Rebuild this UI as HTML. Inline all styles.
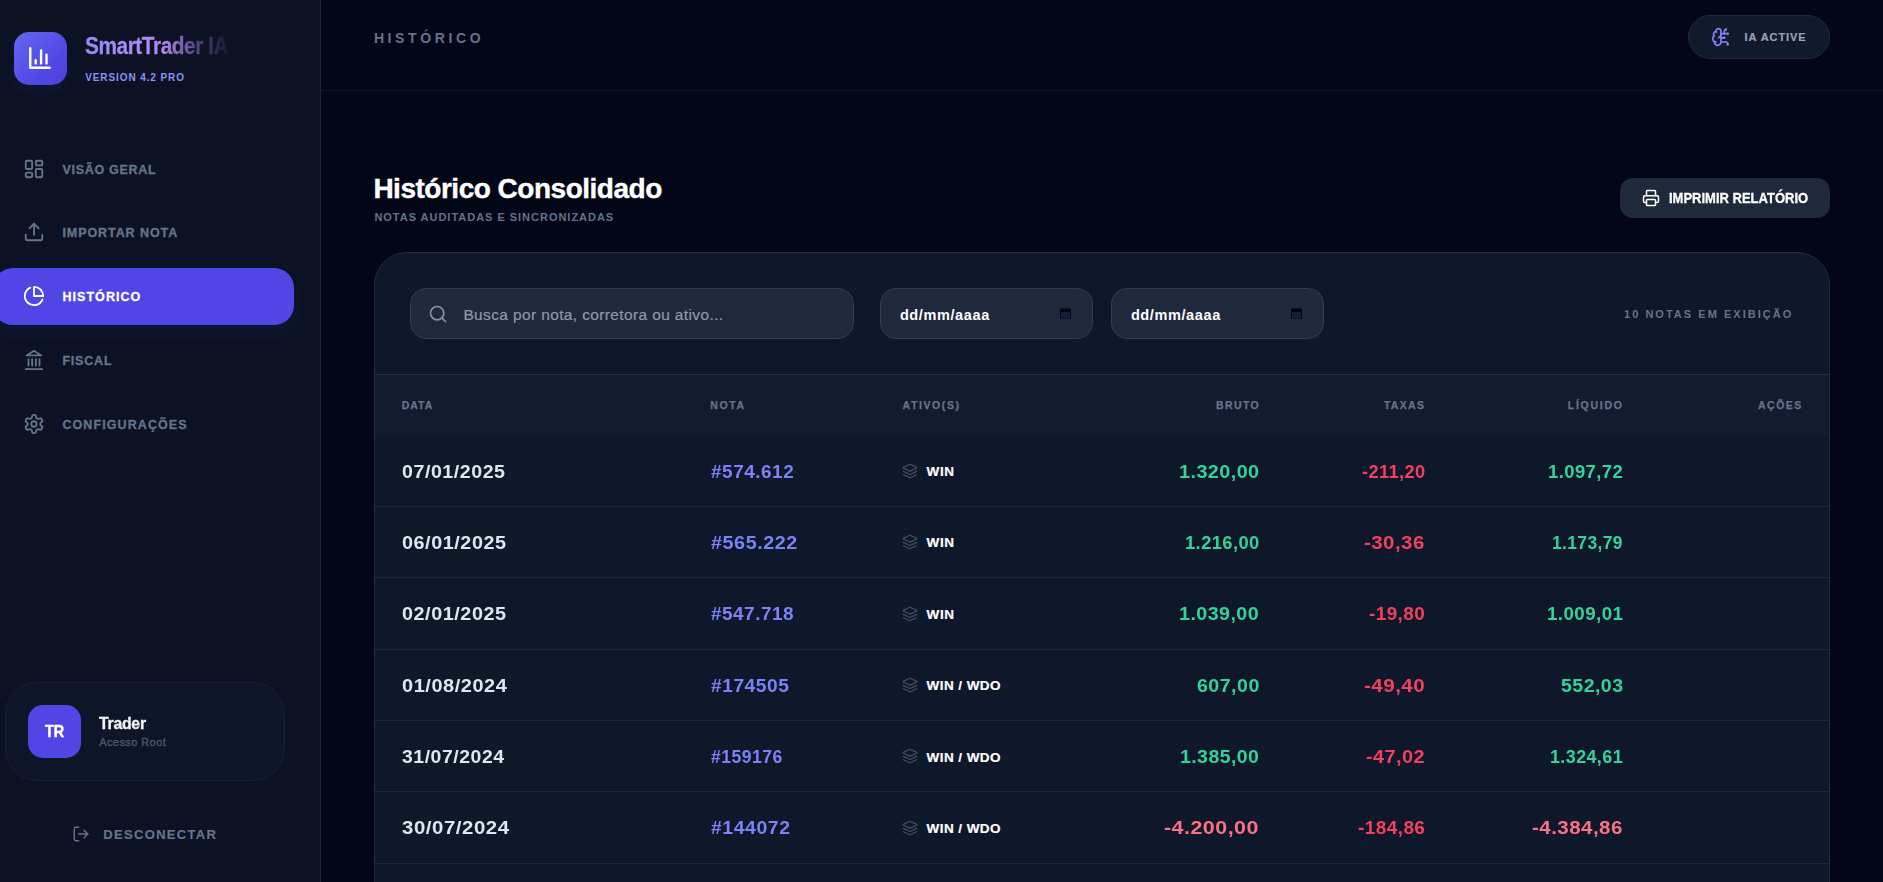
<!DOCTYPE html>
<html lang="pt-BR">
<head>
<meta charset="utf-8">
<title>SmartTrader IA - Histórico</title>
<style>
*{box-sizing:border-box;margin:0;padding:0}
html,body{width:1883px;height:882px;overflow:hidden;background:#020617;color:#e2e8f0;font-family:"Liberation Sans",sans-serif}
body{position:relative}
.x{position:absolute;white-space:nowrap;line-height:1;font-weight:700}
.p{position:absolute}
svg.i{position:absolute;fill:none;stroke-linecap:round;stroke-linejoin:round;overflow:visible}
#sidebar{left:0;top:0;width:321px;height:882px;background:#0c1224;border-right:1px solid #1c2338}
#logo{left:14px;top:32px;width:53px;height:53px;border-radius:15px;background:linear-gradient(135deg,#6467f2 0%,#4f46e5 70%,#4a40dd 100%);box-shadow:0 6px 14px rgba(79,70,229,.07)}
#active{left:-7px;top:268px;width:301px;height:57px;background:#4f46e5;border-radius:20px;box-shadow:0 8px 18px rgba(79,70,229,.08)}
#user{left:5px;top:682px;width:280px;height:99px;border:1px solid #182036;border-radius:32px;background:#0f1528}
#avatar{left:28px;top:705px;width:53px;height:53px;border-radius:15px;background:#4f46e5}
#hline{left:321px;top:90px;width:1562px;height:1px;background:#0e1527}
#pill{left:1688px;top:15px;width:142px;height:44px;border-radius:22px;background:#111a2c;border:1px solid #1f2a40}
#print{left:1620px;top:178px;width:210px;height:40px;border-radius:13px;background:#1e293b}
#card{left:374px;top:252px;width:1456px;height:680px;border-radius:33px;background:#0f172a;border:1px solid #222b40}
.inp{top:288px;height:51px;border-radius:16px;background:#1e293b;border:1px solid #303c51}
#thead{left:375px;top:374px;width:1454px;height:62px;background:#131b2f;border-top:1px solid #222c41}
.hr{left:375px;width:1454px;height:1px;background:#1f283b}
</style>
</head>
<body>
<div id="sidebar" class="p"></div>
<div id="logo" class="p"></div>
<svg class="i" style="left:27.3px;top:44.6px;width:26px;height:26px;stroke:#fff;stroke-width:2.2" viewBox="0 0 24 24"><path d="M3 3v18h18"/><path d="M18 17V9"/><path d="M13 17V5"/><path d="M8 17v-3"/></svg>
<div id="active" class="p"></div>
<svg class="i" style="left:23px;top:158px;width:22px;height:22px;stroke:#64748b;stroke-width:2" viewBox="0 0 24 24"><rect x="3" y="3" width="7" height="9" rx="1"/><rect x="14" y="3" width="7" height="5" rx="1"/><rect x="14" y="12" width="7" height="9" rx="1"/><rect x="3" y="16" width="7" height="5" rx="1"/></svg>
<svg class="i" style="left:23px;top:221px;width:22px;height:22px;stroke:#64748b;stroke-width:2" viewBox="0 0 24 24"><path d="M21 15v4a2 2 0 0 1-2 2H5a2 2 0 0 1-2-2v-4"/><path d="M17 8l-5-5-5 5"/><path d="M12 3v12"/></svg>
<svg class="i" style="left:23px;top:285px;width:22px;height:22px;stroke:#fff;stroke-width:2" viewBox="0 0 24 24"><path d="M21.21 15.89A10 10 0 1 1 8 2.83"/><path d="M22 12A10 10 0 0 0 12 2v10z"/></svg>
<svg class="i" style="left:23px;top:349px;width:22px;height:22px;stroke:#64748b;stroke-width:2" viewBox="0 0 24 24"><path d="M3 22h18"/><path d="M6 18v-7"/><path d="M10 18v-7"/><path d="M14 18v-7"/><path d="M18 18v-7"/><path d="M12 2l8 5H4z"/></svg>
<svg class="i" style="left:23px;top:413px;width:22px;height:22px;stroke:#64748b;stroke-width:2" viewBox="0 0 24 24"><path d="M12.22 2h-.44a2 2 0 0 0-2 2v.18a2 2 0 0 1-1 1.73l-.43.25a2 2 0 0 1-2 0l-.15-.08a2 2 0 0 0-2.73.73l-.22.38a2 2 0 0 0 .73 2.73l.15.1a2 2 0 0 1 1 1.72v.51a2 2 0 0 1-1 1.74l-.15.09a2 2 0 0 0-.73 2.73l.22.38a2 2 0 0 0 2.73.73l.15-.08a2 2 0 0 1 2 0l.43.25a2 2 0 0 1 1 1.73V20a2 2 0 0 0 2 2h.44a2 2 0 0 0 2-2v-.18a2 2 0 0 1 1-1.73l.43-.25a2 2 0 0 1 2 0l.15.08a2 2 0 0 0 2.73-.73l.22-.39a2 2 0 0 0-.73-2.73l-.15-.08a2 2 0 0 1-1-1.74v-.5a2 2 0 0 1 1-1.74l.15-.09a2 2 0 0 0 .73-2.73l-.22-.38a2 2 0 0 0-2.73-.73l-.15.08a2 2 0 0 1-2 0l-.43-.25a2 2 0 0 1-1-1.73V4a2 2 0 0 0-2-2z"/><circle cx="12" cy="12" r="3"/></svg>
<div id="user" class="p"></div>
<div id="avatar" class="p"></div>
<svg class="i" style="left:71.5px;top:824.7px;width:18px;height:18px;stroke:#64748b;stroke-width:1.8" viewBox="0 0 24 24"><path d="M9 21H5a2 2 0 0 1-2-2V5a2 2 0 0 1 2-2h4"/><path d="M16 17l5-5-5-5"/><path d="M21 12H9"/></svg>
<div id="hline" class="p"></div>
<div id="pill" class="p"></div>
<svg class="i" style="left:1710.6px;top:26.9px;width:20px;height:20px;stroke:#7f83f3;stroke-width:2" viewBox="0 0 24 24"><path d="M12 5a3 3 0 1 0-5.997.125 4 4 0 0 0-2.526 5.770 4 4 0 0 0 .556 6.588A4 4 0 1 0 12 18Z"/><path d="M9 13a4.500 4.500 0 0 0 3-4"/><path d="M6.003 5.125A3 3 0 0 0 6.401 6.500"/><path d="M3.477 10.896a4 4 0 0 1 .585-.396"/><path d="M6 18a4 4 0 0 1-1.967-.516"/><path d="M12 13h4"/><path d="M12 18h6a2 2 0 0 1 2 2v1"/><path d="M12 8h8"/><path d="M16 8V5a2 2 0 0 1 2-2"/><circle cx="16" cy="13" r=".5"/><circle cx="18" cy="3" r=".5"/><circle cx="20" cy="21" r=".5"/><circle cx="20" cy="8" r=".5"/></svg>
<div id="print" class="p"></div>
<svg class="i" style="left:1641.8px;top:189px;width:18px;height:18px;stroke:#fff;stroke-width:2" viewBox="0 0 24 24"><path d="M6 18H4a2 2 0 0 1-2-2v-5a2 2 0 0 1 2-2h16a2 2 0 0 1 2 2v5a2 2 0 0 1-2 2h-2"/><path d="M6 9V3a1 1 0 0 1 1-1h10a1 1 0 0 1 1 1v6"/><rect x="6" y="14" width="12" height="8" rx="1"/></svg>
<div id="card" class="p"></div>
<div class="p inp" style="left:410px;width:444px"></div>
<svg class="i" style="left:428px;top:304.2px;width:20px;height:20px;stroke:#8592a8;stroke-width:2" viewBox="0 0 24 24"><circle cx="11" cy="11" r="8"/><path d="M21 21l-4.3-4.3"/></svg>
<div class="p inp" style="left:880px;width:213px"></div>
<div class="p inp" style="left:1111px;width:213px"></div>
<svg class="p" style="left:1060.2px;top:307.8px;width:11px;height:11.6px" viewBox="0 0 11 11.6"><rect x=".5" y="1.2" width="10" height="9.9" rx="1.2" fill="#141d38" stroke="#050814" stroke-width="1"/><path fill="#02030b" d="M1.1.7h8.800a1.100 1.100 0 0 1 1.100 1.100v2.100H0V1.800A1.100 1.100 0 0 1 1.100.7zM1.700 0h1.400v1.200H1.700zM7.900 0h1.400v1.200H7.900z"/></svg>
<svg class="p" style="left:1291.2px;top:307.8px;width:11px;height:11.6px" viewBox="0 0 11 11.6"><rect x=".5" y="1.2" width="10" height="9.9" rx="1.2" fill="#141d38" stroke="#050814" stroke-width="1"/><path fill="#02030b" d="M1.1.7h8.800a1.100 1.100 0 0 1 1.100 1.100v2.100H0V1.800A1.100 1.100 0 0 1 1.100.7zM1.700 0h1.400v1.200H1.700zM7.900 0h1.400v1.200H7.900z"/></svg>
<div id="thead" class="p"></div>
<div class="p hr" style="top:506px"></div>
<div class="p hr" style="top:577px"></div>
<div class="p hr" style="top:649px"></div>
<div class="p hr" style="top:720px"></div>
<div class="p hr" style="top:791px"></div>
<div class="p hr" style="top:863px"></div>
<svg class="i" style="left:901.8px;top:462.8px;width:16px;height:16px;stroke:#434f64;stroke-width:1.9" viewBox="0 0 24 24"><path d="M12.830 2.180a2 2 0 0 0-1.660 0L2.600 6.080a1 1 0 0 0 0 1.830l8.580 3.910a2 2 0 0 0 1.660 0l8.580-3.900a1 1 0 0 0 0-1.830Z"/><path d="M22 12.650l-9.170 4.160a2 2 0 0 1-1.660 0L2 12.650"/><path d="M22 17.650l-9.170 4.160a2 2 0 0 1-1.660 0L2 17.650"/></svg>
<svg class="i" style="left:901.8px;top:534.2px;width:16px;height:16px;stroke:#434f64;stroke-width:1.9" viewBox="0 0 24 24"><path d="M12.830 2.180a2 2 0 0 0-1.660 0L2.600 6.080a1 1 0 0 0 0 1.830l8.580 3.910a2 2 0 0 0 1.660 0l8.580-3.900a1 1 0 0 0 0-1.830Z"/><path d="M22 12.650l-9.170 4.160a2 2 0 0 1-1.660 0L2 12.650"/><path d="M22 17.650l-9.170 4.160a2 2 0 0 1-1.660 0L2 17.650"/></svg>
<svg class="i" style="left:901.8px;top:605.6px;width:16px;height:16px;stroke:#434f64;stroke-width:1.9" viewBox="0 0 24 24"><path d="M12.830 2.180a2 2 0 0 0-1.660 0L2.600 6.080a1 1 0 0 0 0 1.830l8.580 3.910a2 2 0 0 0 1.660 0l8.580-3.900a1 1 0 0 0 0-1.830Z"/><path d="M22 12.650l-9.170 4.160a2 2 0 0 1-1.660 0L2 12.650"/><path d="M22 17.650l-9.170 4.160a2 2 0 0 1-1.660 0L2 17.650"/></svg>
<svg class="i" style="left:901.8px;top:677.0px;width:16px;height:16px;stroke:#434f64;stroke-width:1.9" viewBox="0 0 24 24"><path d="M12.830 2.180a2 2 0 0 0-1.660 0L2.600 6.080a1 1 0 0 0 0 1.830l8.580 3.910a2 2 0 0 0 1.660 0l8.580-3.900a1 1 0 0 0 0-1.830Z"/><path d="M22 12.650l-9.170 4.160a2 2 0 0 1-1.660 0L2 12.650"/><path d="M22 17.650l-9.170 4.160a2 2 0 0 1-1.660 0L2 17.650"/></svg>
<svg class="i" style="left:901.8px;top:748.4px;width:16px;height:16px;stroke:#434f64;stroke-width:1.9" viewBox="0 0 24 24"><path d="M12.830 2.180a2 2 0 0 0-1.660 0L2.600 6.080a1 1 0 0 0 0 1.830l8.580 3.910a2 2 0 0 0 1.660 0l8.580-3.900a1 1 0 0 0 0-1.830Z"/><path d="M22 12.650l-9.170 4.160a2 2 0 0 1-1.660 0L2 12.650"/><path d="M22 17.650l-9.170 4.160a2 2 0 0 1-1.660 0L2 17.650"/></svg>
<svg class="i" style="left:901.8px;top:819.8px;width:16px;height:16px;stroke:#434f64;stroke-width:1.9" viewBox="0 0 24 24"><path d="M12.830 2.180a2 2 0 0 0-1.660 0L2.600 6.080a1 1 0 0 0 0 1.830l8.580 3.910a2 2 0 0 0 1.660 0l8.580-3.900a1 1 0 0 0 0-1.830Z"/><path d="M22 12.650l-9.170 4.160a2 2 0 0 1-1.660 0L2 12.650"/><path d="M22 17.650l-9.170 4.160a2 2 0 0 1-1.660 0L2 17.650"/></svg>
<div class="x" style="left:85.4px;top:34.5px;font-size:23px;color:transparent;transform:scaleX(0.9069);transform-origin:0 0;letter-spacing:-0.5px;-webkit-text-stroke:0.3px currentColor;background:linear-gradient(90deg,#8f8ef8 0%,#a78bf7 30%,#b586f0 55%,rgba(140,110,200,.55) 78%,rgba(90,80,150,.12) 100%);-webkit-background-clip:text;background-clip:text;">SmartTrader IA</div>
<div class="x" style="left:85.2px;top:73.3px;font-size:10px;letter-spacing:0.90px;color:#8b92f7;">VERSION 4.2 PRO</div>
<div class="x" style="left:62.4px;top:164.4px;font-size:12.5px;letter-spacing:0.72px;color:#64748b;-webkit-text-stroke:0.3px currentColor;">VISÃO GERAL</div>
<div class="x" style="left:62.4px;top:227.2px;font-size:12.5px;letter-spacing:0.93px;color:#64748b;-webkit-text-stroke:0.3px currentColor;">IMPORTAR NOTA</div>
<div class="x" style="left:62.4px;top:291.0px;font-size:12.5px;letter-spacing:1.06px;color:#fff;-webkit-text-stroke:0.3px currentColor;">HISTÓRICO</div>
<div class="x" style="left:62.4px;top:355.2px;font-size:12.5px;letter-spacing:0.80px;color:#64748b;-webkit-text-stroke:0.3px currentColor;">FISCAL</div>
<div class="x" style="left:62.4px;top:419.2px;font-size:12.5px;letter-spacing:1.09px;color:#64748b;-webkit-text-stroke:0.3px currentColor;">CONFIGURAÇÕES</div>
<div class="x" style="left:45.2px;top:722.7px;font-size:17px;color:#fff;transform:scaleX(0.8443);transform-origin:0 0;-webkit-text-stroke:0.5px currentColor;">TR</div>
<div class="x" style="left:99.2px;top:714.8px;font-size:17px;color:#f1f5f9;transform:scaleX(0.9321);transform-origin:0 0;letter-spacing:-0.3px;-webkit-text-stroke:0.3px currentColor;">Trader</div>
<div class="x" style="left:99.2px;top:736.7px;font-size:11px;letter-spacing:0.42px;color:#4a5569;font-weight:400;-webkit-text-stroke:0.35px currentColor;">Acesso Root</div>
<div class="x" style="left:103.3px;top:827.6px;font-size:13px;letter-spacing:1.32px;color:#64748b;-webkit-text-stroke:0.2px currentColor;">DESCONECTAR</div>
<div class="x" style="left:373.9px;top:31.1px;font-size:14px;letter-spacing:3.61px;color:#64728b;">HISTÓRICO</div>
<div class="x" style="left:1744.6px;top:31.8px;font-size:11px;letter-spacing:0.94px;color:#97a3b6;-webkit-text-stroke:0.2px currentColor;">IA ACTIVE</div>
<div class="x" style="left:373.4px;top:175.0px;font-size:28px;letter-spacing:-0.49px;color:#fff;-webkit-text-stroke:0.4px currentColor;">Histórico Consolidado</div>
<div class="x" style="left:374.4px;top:212.0px;font-size:11px;letter-spacing:0.98px;color:#64748b;">NOTAS AUDITADAS E SINCRONIZADAS</div>
<div class="x" style="left:1668.9px;top:190.6px;font-size:14.5px;color:#fff;transform:scaleX(0.8966);transform-origin:0 0;-webkit-text-stroke:0.3px currentColor;">IMPRIMIR RELATÓRIO</div>
<div class="x" style="left:463.4px;top:306.8px;font-size:15.5px;letter-spacing:0.37px;color:#8d99ad;font-weight:400;-webkit-text-stroke:0.2px currentColor;">Busca por nota, corretora ou ativo...</div>
<div class="x" style="left:899.9px;top:308.1px;font-size:14.5px;letter-spacing:0.61px;color:#fff;">dd/mm/aaaa</div>
<div class="x" style="left:1130.9px;top:308.1px;font-size:14.5px;letter-spacing:0.61px;color:#fff;">dd/mm/aaaa</div>
<div class="x" style="left:1624.0px;top:308.6px;font-size:11px;letter-spacing:2.03px;color:#64748b;">10 NOTAS EM EXIBIÇÃO</div>
<div class="x" style="left:401.7px;top:399.9px;font-size:10.5px;letter-spacing:0.99px;color:#64748b;-webkit-text-stroke:0.25px currentColor;">DATA</div>
<div class="x" style="left:710.3px;top:399.9px;font-size:10.5px;letter-spacing:1.61px;color:#64748b;-webkit-text-stroke:0.25px currentColor;">NOTA</div>
<div class="x" style="left:902.6px;top:399.9px;font-size:10.5px;letter-spacing:1.58px;color:#64748b;-webkit-text-stroke:0.25px currentColor;">ATIVO(S)</div>
<div class="x" style="left:1216.0px;top:399.9px;font-size:10.5px;letter-spacing:1.38px;color:#64748b;-webkit-text-stroke:0.25px currentColor;">BRUTO</div>
<div class="x" style="left:1383.9px;top:399.9px;font-size:10.5px;letter-spacing:1.32px;color:#64748b;-webkit-text-stroke:0.25px currentColor;">TAXAS</div>
<div class="x" style="left:1567.8px;top:399.9px;font-size:10.5px;letter-spacing:1.74px;color:#64748b;-webkit-text-stroke:0.25px currentColor;">LÍQUIDO</div>
<div class="x" style="left:1758.1px;top:399.9px;font-size:10.5px;letter-spacing:1.44px;color:#64748b;-webkit-text-stroke:0.25px currentColor;">AÇÕES</div>
<div class="x" style="left:401.7px;top:462.8px;font-size:18px;color:#dfe6f0;transform:scaleX(1.0891);transform-origin:0 0;letter-spacing:0.5px;">07/01/2025</div>
<div class="x" style="left:710.8px;top:462.8px;font-size:18px;color:#7c82f6;transform:scaleX(1.0526);transform-origin:0 0;letter-spacing:0.5px;">#574.612</div>
<div class="x" style="left:926.6px;top:465.2px;font-size:13.5px;letter-spacing:0.60px;color:#fff;-webkit-text-stroke:0.2px currentColor;">WIN</div>
<div class="x" style="left:1178.7px;top:462.8px;font-size:18px;color:#34d399;transform:scaleX(1.0994);transform-origin:0 0;letter-spacing:0.4px;">1.320,00</div>
<div class="x" style="left:1361.5px;top:462.8px;font-size:18px;color:#f43f5e;transform:scaleX(1.0121);transform-origin:0 0;letter-spacing:0.4px;">-211,20</div>
<div class="x" style="left:1548.0px;top:462.8px;font-size:18px;color:#34d399;transform:scaleX(1.0257);transform-origin:0 0;letter-spacing:0.4px;">1.097,72</div>
<div class="x" style="left:401.7px;top:533.6px;font-size:18px;color:#dfe6f0;transform:scaleX(1.0996);transform-origin:0 0;letter-spacing:0.5px;">06/01/2025</div>
<div class="x" style="left:710.8px;top:533.6px;font-size:18px;color:#7c82f6;transform:scaleX(1.0984);transform-origin:0 0;letter-spacing:0.5px;">#565.222</div>
<div class="x" style="left:926.6px;top:536.0px;font-size:13.5px;letter-spacing:0.60px;color:#fff;-webkit-text-stroke:0.2px currentColor;">WIN</div>
<div class="x" style="left:1184.5px;top:533.6px;font-size:18px;color:#34d399;transform:scaleX(1.0201);transform-origin:0 0;letter-spacing:0.4px;">1.216,00</div>
<div class="x" style="left:1364.4px;top:533.6px;font-size:18px;color:#f43f5e;transform:scaleX(1.1371);transform-origin:0 0;letter-spacing:0.4px;">-30,36</div>
<div class="x" style="left:1552.2px;top:533.6px;font-size:18px;color:#34d399;transform:scaleX(0.9672);transform-origin:0 0;letter-spacing:0.4px;">1.173,79</div>
<div class="x" style="left:401.7px;top:605.0px;font-size:18px;color:#dfe6f0;transform:scaleX(1.0996);transform-origin:0 0;letter-spacing:0.5px;">02/01/2025</div>
<div class="x" style="left:710.8px;top:605.0px;font-size:18px;color:#7c82f6;transform:scaleX(1.0501);transform-origin:0 0;letter-spacing:0.5px;">#547.718</div>
<div class="x" style="left:926.6px;top:608.2px;font-size:13.5px;letter-spacing:0.60px;color:#fff;-webkit-text-stroke:0.2px currentColor;">WIN</div>
<div class="x" style="left:1179.1px;top:605.0px;font-size:18px;color:#34d399;transform:scaleX(1.0939);transform-origin:0 0;letter-spacing:0.4px;">1.039,00</div>
<div class="x" style="left:1369.0px;top:605.0px;font-size:18px;color:#f43f5e;transform:scaleX(1.0504);transform-origin:0 0;letter-spacing:0.4px;">-19,80</div>
<div class="x" style="left:1546.8px;top:605.0px;font-size:18px;color:#34d399;transform:scaleX(1.0424);transform-origin:0 0;letter-spacing:0.4px;">1.009,01</div>
<div class="x" style="left:401.7px;top:677.0px;font-size:18px;color:#dfe6f0;transform:scaleX(1.1081);transform-origin:0 0;letter-spacing:0.5px;">01/08/2024</div>
<div class="x" style="left:710.8px;top:677.0px;font-size:18px;color:#7c82f6;transform:scaleX(1.0662);transform-origin:0 0;letter-spacing:0.5px;">#174505</div>
<div class="x" style="left:926.6px;top:678.8px;font-size:13.5px;letter-spacing:0.43px;color:#fff;-webkit-text-stroke:0.2px currentColor;">WIN / WDO</div>
<div class="x" style="left:1196.5px;top:677.0px;font-size:18px;color:#34d399;transform:scaleX(1.0921);transform-origin:0 0;letter-spacing:0.4px;">607,00</div>
<div class="x" style="left:1364.0px;top:677.0px;font-size:18px;color:#f43f5e;transform:scaleX(1.1447);transform-origin:0 0;letter-spacing:0.4px;">-49,40</div>
<div class="x" style="left:1560.7px;top:677.0px;font-size:18px;color:#34d399;transform:scaleX(1.0869);transform-origin:0 0;letter-spacing:0.4px;">552,03</div>
<div class="x" style="left:401.7px;top:747.8px;font-size:18px;color:#dfe6f0;transform:scaleX(1.0785);transform-origin:0 0;letter-spacing:0.5px;">31/07/2024</div>
<div class="x" style="left:710.8px;top:747.8px;font-size:18px;color:#7c82f6;transform:scaleX(0.9759);transform-origin:0 0;letter-spacing:0.5px;">#159176</div>
<div class="x" style="left:926.6px;top:750.8px;font-size:13.5px;letter-spacing:0.43px;color:#fff;-webkit-text-stroke:0.2px currentColor;">WIN / WDO</div>
<div class="x" style="left:1179.9px;top:747.8px;font-size:18px;color:#34d399;transform:scaleX(1.0827);transform-origin:0 0;letter-spacing:0.4px;">1.385,00</div>
<div class="x" style="left:1366.1px;top:747.8px;font-size:18px;color:#f43f5e;transform:scaleX(1.1051);transform-origin:0 0;letter-spacing:0.4px;">-47,02</div>
<div class="x" style="left:1550.1px;top:747.8px;font-size:18px;color:#34d399;transform:scaleX(0.9964);transform-origin:0 0;letter-spacing:0.4px;">1.324,61</div>
<div class="x" style="left:401.7px;top:819.2px;font-size:18px;color:#dfe6f0;transform:scaleX(1.1324);transform-origin:0 0;letter-spacing:0.5px;">30/07/2024</div>
<div class="x" style="left:710.8px;top:819.2px;font-size:18px;color:#7c82f6;transform:scaleX(1.0812);transform-origin:0 0;letter-spacing:0.5px;">#144072</div>
<div class="x" style="left:926.6px;top:821.6px;font-size:13.5px;letter-spacing:0.43px;color:#fff;-webkit-text-stroke:0.2px currentColor;">WIN / WDO</div>
<div class="x" style="left:1164.4px;top:819.2px;font-size:18px;color:#fb7185;transform:scaleX(1.1912);transform-origin:0 0;letter-spacing:0.4px;">-4.200,00</div>
<div class="x" style="left:1357.8px;top:819.2px;font-size:18px;color:#f43f5e;transform:scaleX(1.0546);transform-origin:0 0;letter-spacing:0.4px;">-184,86</div>
<div class="x" style="left:1532.4px;top:819.2px;font-size:18px;color:#fb7185;transform:scaleX(1.1394);transform-origin:0 0;letter-spacing:0.4px;">-4.384,86</div>
</body>
</html>
